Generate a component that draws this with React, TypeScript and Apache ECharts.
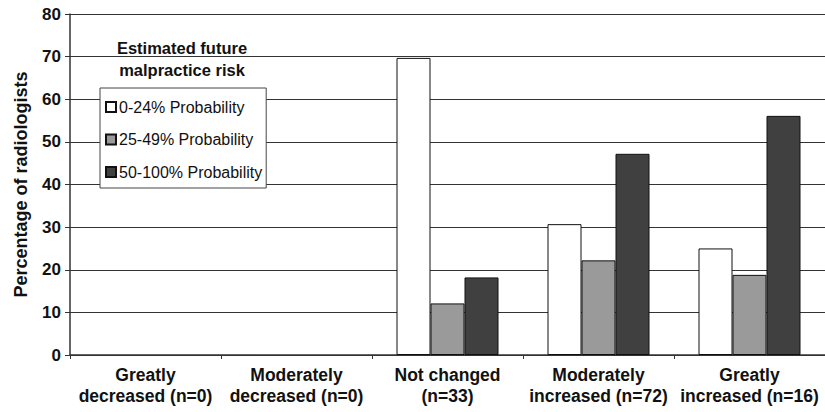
import React, { useEffect, useRef } from "react";
import * as echarts from "echarts";

const categories = [
  "Greatly\ndecreased (n=0)",
  "Moderately\ndecreased (n=0)",
  "Not changed\n(n=33)",
  "Moderately\nincreased (n=72)",
  "Greatly\nincreased (n=16)",
];
const seriesNames = ["0-24% Probability", "25-49% Probability", "50-100% Probability"];
const low = [null, null, 69.7, 30.7, 25.0];
const mid = [null, null, 12.1, 22.2, 18.8];
const high = [null, null, 18.2, 47.2, 56.1];
const yTicks = { min: 0, max: 80, interval: 10 };
const legendTitle = "Estimated future\nmalpractice risk";
const yAxisName = "Percentage of radiologists";

const FONT = "'Liberation Sans', Arial, sans-serif";
const colors = ["#ffffff", "#9a9a9a", "#404040"];

export default function App() {
  const ref = useRef<HTMLDivElement>(null);
  useEffect(() => {
    if (!ref.current) return;
    const chart = echarts.init(ref.current, null, { renderer: "svg" });
    const data = [low, mid, high];
    chart.setOption({
      animation: false,
      backgroundColor: "#ffffff",
      textStyle: { fontFamily: FONT },
      grid: { left: 70, right: -1, top: 14, bottom: 57, containLabel: false },
      graphic: [
        {
          type: "text",
          x: 182,
          y: 37,
          style: {
            text: legendTitle,
            fontFamily: FONT,
            fontSize: 16.5,
            fontWeight: "bold",
            fill: "#111",
            textAlign: "center",
            lineHeight: 22,
          },
        },
      ],
      legend: {
        orient: "vertical",
        left: 100,
        top: 88,
        width: 166,
        backgroundColor: "#ffffff",
        borderColor: "#444",
        borderWidth: 1,
        borderRadius: 0,
        padding: [11, 4, 8, 5],
        itemWidth: 10,
        itemHeight: 10,
        itemGap: 16.5,
        icon: "rect",
        textStyle: { fontFamily: FONT, fontSize: 16, color: "#111", padding: [0, 0, 0, -2] },
        data: seriesNames,
      },
      xAxis: {
        type: "category",
        data: categories,
        axisLine: { show: true, lineStyle: { color: "#333", width: 1.5 } },
        axisTick: { show: true, length: 4, lineStyle: { color: "#333" } },
        axisLabel: {
          interval: 0,
          margin: 9,
          fontFamily: FONT,
          fontSize: 17.5,
          fontWeight: "bold",
          color: "#111",
          lineHeight: 21,
        },
        splitLine: { show: false },
      },
      yAxis: {
        type: "value",
        min: yTicks.min,
        max: yTicks.max,
        interval: yTicks.interval,
        name: yAxisName,
        nameLocation: "middle",
        nameGap: 40,
        nameTextStyle: { fontFamily: FONT, fontSize: 18, fontWeight: "bold", color: "#111" },
        axisLine: { show: true, lineStyle: { color: "#333", width: 1.5 } },
        axisTick: { show: true, length: 5, lineStyle: { color: "#333" } },
        axisLabel: { fontFamily: FONT, fontSize: 17, fontWeight: "bold", color: "#111", margin: 9 },
        splitLine: { show: true, lineStyle: { color: "#333", width: 1.2 } },
      },
      series: seriesNames.map((name, i) => ({
        name,
        type: "bar",
        data: data[i],
        barWidth: 34,
        barGap: "0%",
        itemStyle: { color: colors[i], borderColor: "#111", borderWidth: 1 },
      })),
    });
    return () => chart.dispose();
  }, []);
  return (
    <div
      ref={ref}
      style={{ position: "fixed", left: 0, top: 0, width: 825, height: 412, background: "#fff" }}
    />
  );
}
